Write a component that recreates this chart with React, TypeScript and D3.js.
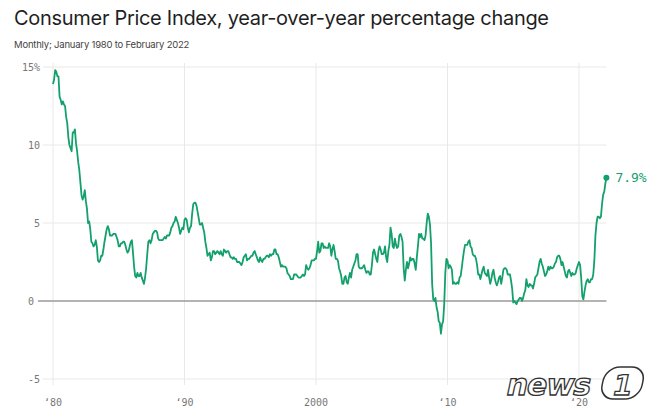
import React from "react";
import * as d3 from "d3";

// Monthly CPI, year-over-year % change, starting January of each decade's first year
const cpi1980s = [
  13.9, 14.2, 14.8, 14.7, 14.4, 14.4, 13.1, 12.9, 12.6, 12.8, 12.6, 12.5,
  11.8, 11.4, 10.5, 10.0, 9.8, 9.6, 10.8, 10.8, 11.0, 10.1, 9.6, 8.9,
  8.4, 7.6, 6.8, 6.5, 6.7, 7.1, 6.4, 5.9, 5.0, 5.1, 4.6, 3.8,
  3.7, 3.5, 3.6, 3.9, 3.5, 2.6, 2.5, 2.6, 2.9, 2.9, 3.3, 3.8,
  4.2, 4.6, 4.8, 4.6, 4.2, 4.2, 4.2, 4.3, 4.3, 4.3, 4.1, 3.9,
  3.5, 3.5, 3.7, 3.7, 3.8, 3.8, 3.6, 3.3, 3.1, 3.2, 3.5, 3.8,
  3.9, 3.1, 2.2, 1.6, 1.5, 1.8, 1.6, 1.6, 1.8, 1.5, 1.3, 1.1,
  1.5, 2.1, 3.0, 3.8, 3.9, 3.7, 3.9, 4.3, 4.4, 4.5, 4.5, 4.4,
  4.0, 3.9, 3.9, 3.9, 3.9, 4.0, 4.1, 4.0, 4.2, 4.2, 4.2, 4.4,
  4.7, 4.8, 5.0, 5.1, 5.4, 5.2, 5.0, 4.7, 4.3, 4.5, 4.7, 4.6,
];
const cpi1990s = [
  5.2, 5.3, 5.2, 4.7, 4.4, 4.7, 4.8, 5.6, 6.2, 6.3, 6.3, 6.1,
  5.7, 5.3, 4.9, 4.9, 5.0, 4.7, 4.4, 3.8, 3.4, 2.9, 3.0, 3.1,
  2.6, 2.8, 3.2, 3.2, 3.0, 3.1, 3.2, 3.1, 3.0, 3.2, 3.0, 2.9,
  3.3, 3.2, 3.1, 3.2, 3.2, 3.0, 2.8, 2.8, 2.7, 2.8, 2.7, 2.7,
  2.5, 2.5, 2.5, 2.4, 2.3, 2.5, 2.8, 2.9, 3.0, 2.6, 2.7, 2.7,
  2.8, 2.9, 2.9, 3.1, 3.2, 3.0, 2.8, 2.6, 2.5, 2.8, 2.6, 2.5,
  2.7, 2.7, 2.8, 2.9, 2.9, 2.8, 3.0, 2.9, 3.0, 3.0, 3.3, 3.3,
  3.0, 3.0, 2.8, 2.5, 2.2, 2.3, 2.2, 2.2, 2.2, 2.1, 1.8, 1.7,
  1.6, 1.4, 1.4, 1.4, 1.7, 1.7, 1.7, 1.6, 1.5, 1.5, 1.5, 1.6,
  1.7, 1.6, 1.7, 2.3, 2.1, 2.0, 2.1, 2.3, 2.6, 2.6, 2.6, 2.7,
];
const cpi2000s = [
  2.7, 3.2, 3.8, 3.1, 3.2, 3.7, 3.7, 3.4, 3.5, 3.4, 3.4, 3.4,
  3.7, 3.5, 2.9, 3.3, 3.6, 3.2, 2.7, 2.7, 2.6, 2.1, 1.9, 1.6,
  1.1, 1.1, 1.5, 1.6, 1.2, 1.1, 1.5, 1.8, 1.5, 2.0, 2.2, 2.4,
  2.6, 3.0, 3.0, 2.2, 2.1, 2.1, 2.1, 2.2, 2.3, 2.0, 1.8, 1.9,
  1.9, 1.7, 1.7, 2.3, 3.1, 3.3, 3.0, 2.7, 2.5, 3.2, 3.5, 3.3,
  3.0, 3.0, 3.1, 3.5, 2.8, 2.5, 3.2, 3.6, 4.7, 4.3, 3.5, 3.4,
  4.0, 3.6, 3.4, 3.5, 4.2, 4.3, 4.1, 3.8, 2.1, 1.3, 2.0, 2.5,
  2.1, 2.4, 2.8, 2.6, 2.7, 2.7, 2.4, 2.0, 2.8, 3.5, 4.3, 4.1,
  4.3, 4.0, 4.0, 3.9, 4.2, 5.0, 5.6, 5.4, 4.9, 3.7, 1.1, 0.1,
  0.0, 0.2, -0.4, -0.7, -1.3, -1.4, -2.1, -1.5, -1.3, -0.2, 1.8, 2.7,
];
const cpi2010s = [
  2.6, 2.1, 2.3, 2.2, 2.0, 1.1, 1.2, 1.1, 1.1, 1.2, 1.1, 1.5,
  1.6, 2.1, 2.7, 3.2, 3.6, 3.6, 3.6, 3.8, 3.9, 3.5, 3.4, 3.0,
  2.9, 2.9, 2.7, 2.3, 1.7, 1.7, 1.4, 1.7, 2.0, 2.2, 1.8, 1.7,
  1.6, 2.0, 1.5, 1.1, 1.4, 1.8, 2.0, 1.5, 1.2, 1.0, 1.2, 1.5,
  1.6, 1.1, 1.5, 2.0, 2.1, 2.1, 2.0, 1.7, 1.7, 1.7, 1.3, 0.8,
  -0.1, 0.0, -0.1, -0.2, 0.0, 0.1, 0.2, 0.2, 0.0, 0.2, 0.5, 0.7,
  1.4, 1.0, 0.9, 1.1, 1.0, 1.0, 0.8, 1.1, 1.5, 1.6, 1.7, 2.1,
  2.5, 2.7, 2.4, 2.2, 1.9, 1.6, 1.7, 1.9, 2.2, 2.0, 2.2, 2.1,
  2.1, 2.2, 2.4, 2.5, 2.8, 2.9, 2.9, 2.7, 2.3, 2.5, 2.2, 1.9,
  1.6, 1.5, 1.9, 2.0, 1.8, 1.6, 1.8, 1.7, 1.7, 1.8, 2.1, 2.3,
];
const cpi2020s = [
  2.5, 2.3, 1.5, 0.3, 0.1, 0.6, 1.0, 1.3, 1.4, 1.2, 1.2, 1.4,
  1.4, 1.7, 2.6, 4.2, 5.0, 5.4, 5.4, 5.3, 5.4, 6.2, 6.8, 7.0,
  7.5, 7.9,
];

const startYear = 1980;
const yTicks = [15, 10, 5, 0, -5];
const yTickLabels = ["15%", "10", "5", "0", "-5"];
const xTicks = [1980, 1990, 2000, 2010, 2020];
const xTickLabels = ["\u201880", "\u201890", "2000", "\u201810", "\u201820"];

const title = "Consumer Price Index, year-over-year percentage change";
const subtitle = "Monthly; January 1980 to February 2022";

const values = [...cpi1980s, ...cpi1990s, ...cpi2000s, ...cpi2010s, ...cpi2020s];
const data = values.map((v, i) => ({ t: startYear + i / 12, v }));

const W = 658;
const H = 416;
const GREEN = "#13a06c";
const MONO = "'DejaVu Sans Mono', 'Liberation Mono', monospace";

export default function App() {
  const x = d3.scaleLinear().domain([1980, 2020]).range([53, 579]);
  const y = d3.scaleLinear().domain([-5, 15]).range([379, 67]);
  const line = d3
    .line<{ t: number; v: number }>()
    .x((d) => x(d.t))
    .y((d) => y(d.v))
    .curve(d3.curveLinear);
  const last = data[data.length - 1];
  const gridLeft = 43;
  const gridRight = x(last.t);

  return (
    <svg
      width={W}
      height={H}
      style={{ position: "absolute", left: 0, top: 0, background: "#fff" }}
    >
      <text
        x={14}
        y={25}
        fontFamily="Inter, 'Noto Sans', sans-serif"
        fontSize={20}
        fill="#1f1f1f"
        letterSpacing={-0.3}
      >
        {title}
      </text>
      <text
        x={14}
        y={48}
        fontFamily="Inter, 'Noto Sans', sans-serif"
        fontSize={9.5}
        fill="#444"
        letterSpacing={-0.2}
      >
        {subtitle}
      </text>

      {/* vertical gridlines */}
      {xTicks.map((t) => (
        <line
          key={"vx" + t}
          x1={x(t)}
          x2={x(t)}
          y1={63}
          y2={385}
          stroke="#e8e8e8"
          strokeWidth={1}
        />
      ))}
      {/* horizontal gridlines */}
      {yTicks.map((t) => (
        <line
          key={"hy" + t}
          x1={t === 0 ? 38 : gridLeft}
          x2={gridRight}
          y1={y(t)}
          y2={y(t)}
          stroke={t === 0 ? "#9a9a9a" : "#e8e8e8"}
          strokeWidth={t === 0 ? 1.3 : 1}
        />
      ))}
      {yTicks.map((t, i) => (
        <text
          key={"yl" + t}
          x={t === 0 ? 34 : 40}
          y={y(t)}
          dy="0.35em"
          textAnchor="end"
          fontFamily={MONO}
          fontSize={10}
          fill="#777"
        >
          {yTickLabels[i]}
        </text>
      ))}
      {xTicks.map((t, i) => (
        <text
          key={"xl" + t}
          x={x(t)}
          y={406}
          textAnchor="middle"
          fontFamily={MONO}
          fontSize={10}
          fill="#777"
        >
          {xTickLabels[i]}
        </text>
      ))}

      <path
        d={line(data) || ""}
        fill="none"
        stroke={GREEN}
        strokeWidth={1.8}
        strokeLinejoin="round"
      />
      <circle cx={x(last.t)} cy={y(last.v)} r={3} fill={GREEN} />
      <text
        x={x(last.t) + 9}
        y={y(last.v)}
        dy="0.35em"
        fontFamily={MONO}
        fontSize={13}
        fill={GREEN}
      >
        {last.v.toFixed(1) + "%"}
      </text>

      {/* watermark */}
      <g transform="translate(505,395) skewX(-12)">
        <text
          x={0}
          y={0}
          fontFamily="'DejaVu Sans', sans-serif"
          fontWeight="bold"
          fontSize={30}
          fill="#fff"
          stroke="#333"
          strokeWidth={1.3}
          letterSpacing={-1}
        >
          news
        </text>
        <rect
          x={95}
          y={-28}
          width={40}
          height={32}
          rx={14}
          fill="#fff"
          stroke="#333"
          strokeWidth={1.5}
        />
        <text
          x={106}
          y={0}
          fontFamily="'DejaVu Sans', sans-serif"
          fontWeight="bold"
          fontSize={28}
          fill="#fff"
          stroke="#333"
          strokeWidth={1.3}
        >
          1
        </text>
      </g>
    </svg>
  );
}
